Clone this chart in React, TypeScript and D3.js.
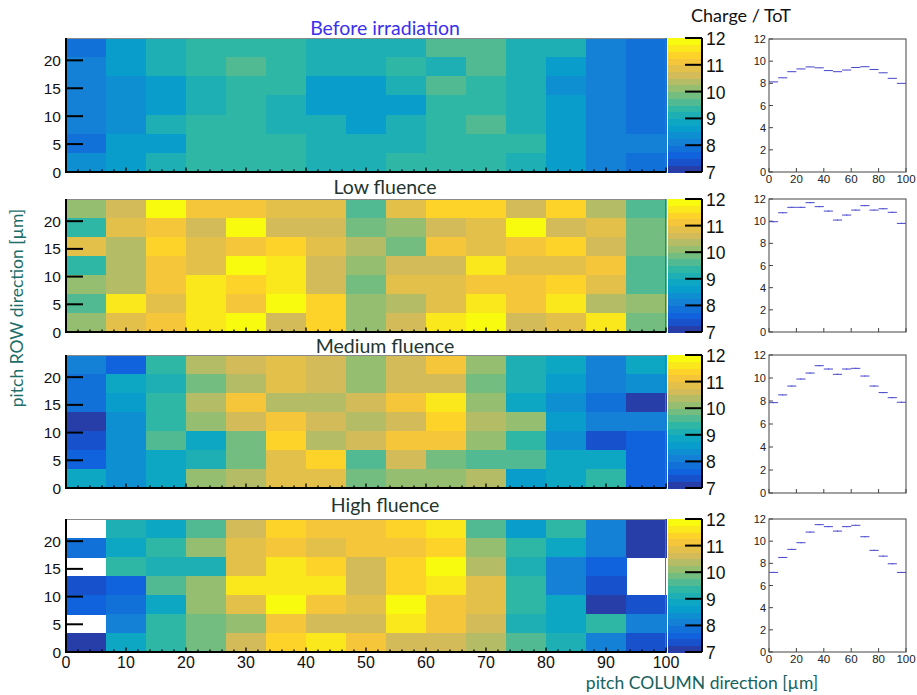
import React from 'react';
import * as d3 from 'd3';

// ---------- DATA ----------
const panelTitles = ['Before irradiation', 'Low fluence', 'Medium fluence', 'High fluence'];
const colorbarTicks = [7, 8, 9, 10, 11, 12];
const rowTicks = [0, 5, 10, 15, 20];
const columnTicks = [0, 10, 20, 30, 40, 50, 60, 70, 80, 90, 100];
const profileXTicks = [0, 20, 40, 60, 80, 100];
const profileYTicks = [0, 2, 4, 6, 8, 10, 12];

// charge/ToT maps, rows listed top (row 6) to bottom (row 0), 15 columns each
const beforeIrradiation = [
  [7.9, 8.6, 9.1, 9.4, 9.4, 9.4, 9.1, 9.1, 9.1, 9.6, 9.6, 9.1, 9.1, 8.1, 7.9],
  [8.1, 8.6, 9.1, 9.4, 9.6, 9.4, 9.1, 9.1, 9.4, 9.1, 9.6, 9.1, 8.6, 8.1, 7.9],
  [8.1, 8.3, 8.7, 9.1, 9.4, 9.4, 8.7, 8.7, 9.1, 9.6, 9.4, 9.1, 8.4, 8.1, 7.9],
  [8.1, 8.4, 8.7, 9.1, 9.4, 9.1, 8.7, 8.7, 8.7, 9.4, 9.4, 9.1, 8.7, 8.1, 7.9],
  [8.1, 8.4, 9.1, 9.4, 9.4, 9.1, 9.1, 8.7, 9.1, 9.4, 9.6, 9.1, 8.7, 8.1, 7.9],
  [7.9, 8.6, 8.7, 9.4, 9.4, 9.4, 9.1, 9.1, 9.1, 9.4, 9.4, 9.4, 8.7, 8.1, 8.1],
  [8.4, 8.6, 9.1, 9.4, 9.4, 9.4, 9.1, 9.1, 9.4, 9.4, 9.4, 9.1, 8.7, 8.1, 7.9],
];
const lowFluence = [
  [10.1, 10.6, 11.9, 11.1, 11.1, 10.9, 10.9, 9.6, 10.9, 11.4, 11.4, 10.6, 11.4, 10.4, 9.6],
  [9.4, 10.9, 11.1, 10.6, 11.9, 10.6, 10.6, 9.9, 10.1, 10.6, 10.9, 11.9, 10.6, 10.9, 9.9],
  [10.9, 10.4, 11.4, 10.9, 11.1, 11.4, 10.9, 10.4, 9.9, 11.1, 10.9, 11.1, 11.4, 10.6, 9.9],
  [9.4, 10.4, 11.1, 10.9, 11.9, 11.6, 10.6, 10.1, 10.6, 10.6, 11.6, 10.9, 10.9, 11.1, 9.6],
  [10.1, 10.4, 11.1, 11.6, 11.4, 11.6, 10.6, 9.9, 10.9, 10.9, 11.1, 11.1, 11.4, 10.9, 9.6],
  [9.6, 11.6, 10.9, 11.6, 11.1, 11.9, 11.4, 10.1, 10.4, 10.9, 11.6, 11.1, 11.6, 10.4, 10.1],
  [10.1, 10.9, 11.1, 11.6, 11.9, 10.6, 11.4, 10.1, 10.6, 11.6, 11.9, 10.6, 10.9, 11.6, 9.9],
];
const mediumFluence = [
  [8.1, 7.6, 9.4, 10.4, 10.6, 10.9, 10.6, 10.1, 10.6, 11.1, 10.1, 9.1, 8.9, 8.1, 8.9],
  [7.9, 8.8, 9.1, 9.9, 10.4, 10.9, 10.6, 10.1, 10.6, 10.6, 9.9, 9.1, 8.6, 8.1, 8.4],
  [7.9, 8.6, 9.4, 10.4, 11.1, 10.4, 10.4, 10.6, 11.1, 11.6, 10.1, 8.9, 8.4, 7.9, 7.1],
  [7.1, 8.4, 9.4, 10.1, 10.6, 11.1, 10.6, 10.4, 10.6, 11.4, 10.4, 10.1, 8.7, 8.1, 8.1],
  [7.4, 8.4, 9.6, 8.9, 9.9, 11.4, 10.4, 10.6, 11.1, 11.1, 10.1, 9.4, 8.4, 7.4, 7.6],
  [7.6, 8.4, 8.9, 9.1, 9.9, 10.9, 11.4, 9.6, 10.6, 9.9, 9.6, 9.6, 8.9, 8.9, 7.6],
  [8.9, 8.4, 8.9, 10.1, 10.4, 10.9, 10.9, 9.9, 10.1, 10.1, 10.4, 8.6, 8.9, 9.4, 7.6],
];
const highFluence = [
  [null, 9.1, 8.9, 9.6, 10.6, 11.4, 11.1, 11.1, 11.4, 11.6, 9.6, 8.6, 9.4, 8.1, 7.1],
  [7.9, 8.9, 9.4, 10.1, 10.9, 11.1, 10.9, 11.1, 11.1, 11.4, 10.1, 9.4, 8.9, 8.1, 7.1],
  [null, 9.4, 9.1, 9.1, 10.9, 11.6, 11.4, 10.6, 11.4, 11.9, 10.4, 9.1, 8.1, 7.6, null],
  [7.4, 7.6, 9.6, 10.1, 11.6, 11.6, 11.6, 10.6, 11.4, 11.6, 10.9, 9.4, 8.1, 7.4, null],
  [7.6, 7.9, 8.9, 10.1, 10.9, 11.9, 11.1, 10.9, 11.9, 11.1, 10.9, 9.4, 8.9, 7.1, 7.4],
  [null, 8.1, 9.4, 9.9, 10.1, 11.1, 10.6, 10.6, 11.6, 11.1, 10.6, 9.1, 8.9, 9.4, 8.1],
  [7.1, 8.9, 9.4, 9.9, 10.6, 11.4, 11.6, 11.1, 10.6, 10.6, 10.4, 9.6, 9.1, 8.1, 7.4],
];

// column profiles (mean charge/ToT per column)
const profileBefore = [8.13, 8.5, 9.05, 9.3, 9.48, 9.4, 9.15, 9.05, 9.2, 9.43, 9.5, 9.25, 8.95, 8.45, 8.0];
const profileLow = [9.95, 10.76, 11.25, 11.25, 11.67, 11.31, 10.91, 10.1, 10.55, 11.0, 11.4, 11.0, 11.12, 10.8, 9.8];
const profileMedium = [7.86, 8.53, 9.3, 9.91, 10.43, 11.07, 10.78, 10.32, 10.78, 10.84, 10.17, 9.3, 8.73, 8.29, 7.89];
const profileHigh = [7.18, 8.53, 9.26, 9.86, 10.82, 11.49, 11.31, 10.91, 11.31, 11.43, 10.4, 9.17, 8.65, 7.96, 7.18];
const profileErrors = [0.01, 0.05, 0.05, 0.05];

const maps = [beforeIrradiation, lowFluence, mediumFluence, highFluence];
const profiles = [profileBefore, profileLow, profileMedium, profileHigh];

// ---------- PALETTE (ROOT kBird) ----------
const birdStops = [0.0, 0.125, 0.25, 0.375, 0.5, 0.625, 0.75, 0.875, 1.0];
const birdR = [0.2082, 0.0592, 0.078, 0.0232, 0.1802, 0.5301, 0.8186, 0.9956, 0.9764];
const birdG = [0.1664, 0.3599, 0.5041, 0.6419, 0.7178, 0.7492, 0.7328, 0.7862, 0.9832];
const birdB = [0.5293, 0.8684, 0.8385, 0.7914, 0.6425, 0.4662, 0.3499, 0.1968, 0.0539];
const birdScale = d3
  .scaleLinear<string>()
  .domain(birdStops)
  .range(birdStops.map((_, i) => d3.rgb(birdR[i] * 255, birdG[i] * 255, birdB[i] * 255).toString()))
  .interpolate(d3.interpolateRgb);
const N_CONT = 20;
const Z_MIN = 7;
const Z_MAX = 12;
const bandColors = d3.range(N_CONT).map((i) => birdScale(Math.floor(((i + 0.99) * 255) / N_CONT) / 254));
const zColor = d3.scaleQuantize<string>().domain([Z_MIN, Z_MAX]).range(bandColors);

// ---------- LAYOUT ----------
const W = 917;
const H = 695;
const heatLeft = 66;
const heatRight = 666;
const panelY = [
  [38, 172],
  [199, 332],
  [355, 488],
  [519, 652],
];
const cbLeft = 668;
const cbRight = 702;
const profLeft = 769;
const profRight = 906;
const profY = [
  [39, 172],
  [199, 332],
  [355, 493],
  [519, 652],
];
const NCOLS = 15;
const NROWS = 7;
const axisFont = '"Liberation Sans", Arial, sans-serif';
const titleFont = 'Lato, "Open Sans", sans-serif';

function Panel({ idx }: { idx: number }) {
  const [top, bottom] = panelY[idx];
  const x = d3.scaleLinear().domain([0, 100]).range([heatLeft, heatRight]);
  const y = d3.scaleLinear().domain([0, 24]).range([bottom, top]);
  const z = d3.scaleLinear().domain([Z_MIN, Z_MAX]).range([bottom, top]);
  const data = maps[idx];
  const colW = 100 / NCOLS;
  const rowH = 24 / NROWS;
  const minorTicks = d3.range(0, 101, 2);

  const [pTop, pBottom] = profY[idx];
  const px = d3.scaleLinear().domain([0, 100]).range([profLeft, profRight]);
  const py = d3.scaleLinear().domain([0, 12]).range([pBottom, pTop]);
  const prof = profiles[idx];
  const err = profileErrors[idx];

  return (
    <g>
      {/* heatmap cells */}
      <g shapeRendering="crispEdges">
        {data.map((row, r) =>
          row.map((v, c) => {
            if (v === null) return null;
            const k = NROWS - 1 - r;
            const x0 = x(c * colW);
            const x1 = x((c + 1) * colW);
            const y0 = y((k + 1) * rowH);
            const y1 = y(k * rowH);
            return (
              <rect
                key={`${r}-${c}`}
                x={x0}
                y={y0}
                width={x1 - x0 + 0.5}
                height={y1 - y0 + 0.5}
                fill={zColor(v as number)}
              />
            );
          })
        )}
      </g>
      {/* frame top/right */}
      <line x1={heatLeft} x2={heatRight} y1={top + 0.5} y2={top + 0.5} stroke="#8a8a8a" strokeWidth={1} />
      <line x1={heatRight - 0.5} x2={heatRight - 0.5} y1={top} y2={bottom} stroke="#6a6a6a" strokeWidth={1} />
      {/* left axis */}
      <line x1={heatLeft} x2={heatLeft} y1={top} y2={bottom + 1} stroke="#000" strokeWidth={2} />
      {rowTicks.map((t) => (
        <g key={t}>
          <line x1={heatLeft} x2={heatLeft + 17} y1={y(t)} y2={y(t)} stroke="#000" strokeWidth={2} />
          <text
            x={61}
            y={y(t) + 5.5}
            textAnchor="end"
            fontFamily={axisFont}
            fontSize={15.5}
            fill="#111"
          >
            {t}
          </text>
        </g>
      ))}
      {/* bottom axis */}
      <line x1={heatLeft - 1} x2={heatRight} y1={bottom} y2={bottom} stroke="#000" strokeWidth={2} />
      {minorTicks.map((t) => (
        <line
          key={t}
          x1={x(t)}
          x2={x(t)}
          y1={bottom}
          y2={bottom - (t % 10 === 0 ? 4.5 : 2.5)}
          stroke="#000"
          strokeWidth={1.3}
        />
      ))}
      {idx === 3 &&
        columnTicks.map((t) => (
          <text key={t} x={x(t)} y={bottom + 16} textAnchor="middle" fontFamily={axisFont} fontSize={16} fill="#111">
            {t}
          </text>
        ))}
      {/* title */}
      <text
        x={385}
        y={[35, 194, 353, 512][idx]}
        textAnchor="middle"
        fontFamily={titleFont}
        fontSize={19.5}
        fill={idx === 0 ? '#3a30ee' : '#22352f'}
      >
        {panelTitles[idx]}
      </text>

      {/* colour bar */}
      <g shapeRendering="crispEdges">
        {bandColors.map((c, i) => {
          const z0 = Z_MIN + ((Z_MAX - Z_MIN) * i) / N_CONT;
          const z1 = Z_MIN + ((Z_MAX - Z_MIN) * (i + 1)) / N_CONT;
          return <rect key={i} x={cbLeft} y={z(z1)} width={cbRight - cbLeft} height={z(z0) - z(z1) + 0.5} fill={c} />;
        })}
      </g>
      <line x1={cbRight} x2={cbRight} y1={top} y2={bottom} stroke="#000" strokeWidth={2} />
      {colorbarTicks.map((t) => (
        <g key={t}>
          <line x1={cbRight - 17} x2={cbRight} y1={z(t)} y2={z(t)} stroke="#000" strokeWidth={2} />
          <text x={706} y={z(t) + 7} fontFamily={axisFont} fontSize={17.5} fill="#111">
            {t}
          </text>
        </g>
      ))}

      {/* profile plot */}
      <rect x={profLeft} y={pTop} width={profRight - profLeft} height={pBottom - pTop} fill="none" stroke="#444" strokeWidth={1} />
      {profileYTicks.map((t) => (
        <g key={t}>
          <line x1={profLeft} x2={profLeft + 4} y1={py(t)} y2={py(t)} stroke="#444" strokeWidth={1} />
          <text x={766} y={py(t) + 4} textAnchor="end" fontFamily={axisFont} fontSize={11} fill="#222">
            {t}
          </text>
        </g>
      ))}
      {profileXTicks.map((t) => (
        <line key={t} x1={px(t)} x2={px(t)} y1={pBottom} y2={pBottom - 4} stroke="#444" strokeWidth={1} />
      ))}
      {(idx === 0 || idx === 3) &&
        profileXTicks.map((t) => (
          <text key={t} x={px(t)} y={pBottom + 10.5} textAnchor="middle" fontFamily={axisFont} fontSize={11.5} fill="#222">
            {t}
          </text>
        ))}
      {prof.map((v, i) => {
        const xc = px((i + 0.5) * colW);
        return (
          <g key={i} stroke="#4646cc" strokeWidth={1}>
            <line x1={px(i * colW)} x2={px((i + 1) * colW)} y1={py(v)} y2={py(v)} />
            <line x1={xc} x2={xc} y1={py(v - err)} y2={py(v + err)} />
          </g>
        );
      })}
    </g>
  );
}

export default function App() {
  return (
    <div style={{ position: 'absolute', left: 0, top: 0 }}>
      <svg width={W} height={H} style={{ display: 'block', background: '#fff' }}>
        <rect width={W} height={H} fill="#fff" />
        {[0, 1, 2, 3].map((i) => (
          <Panel key={i} idx={i} />
        ))}
        <text x={741} y={22} textAnchor="middle" fontFamily={titleFont} fontSize={18} fill="#111">
          Charge / ToT
        </text>
        <text
          transform="translate(23,308) rotate(-90)"
          textAnchor="middle"
          fontFamily={titleFont}
          fontSize={17.5}
          fill="#1d6e69"
        >
          pitch ROW direction [µm]
        </text>
        <text x={702} y={689} textAnchor="middle" fontFamily={titleFont} fontSize={17.5} fill="#17625e">
          pitch COLUMN direction [µm]
        </text>
      </svg>
    </div>
  );
}
